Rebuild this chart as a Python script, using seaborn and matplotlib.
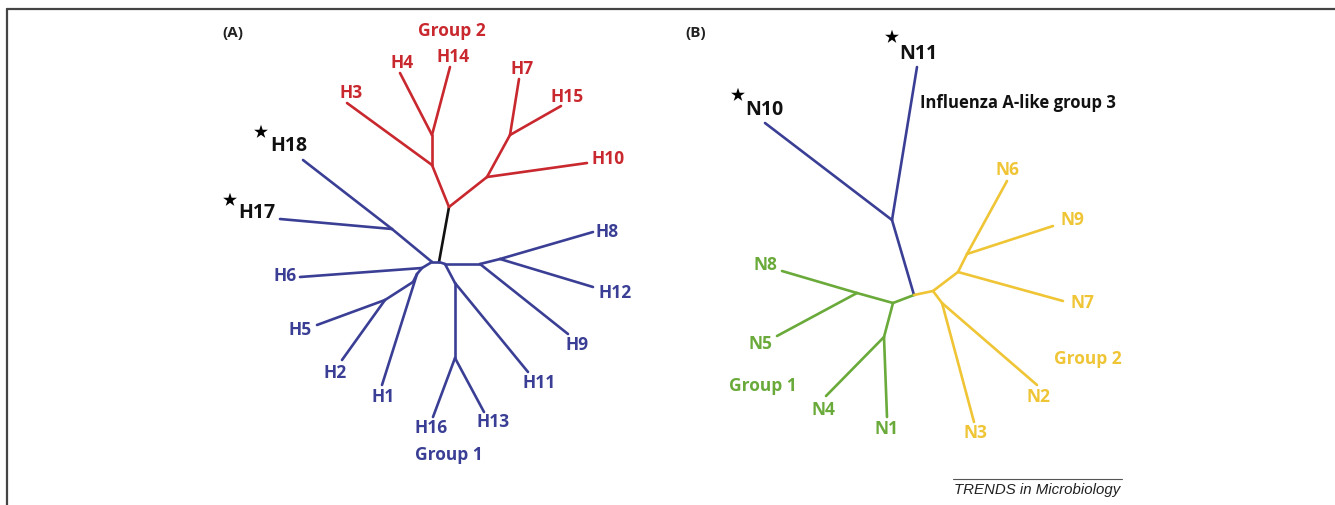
import pandas as pd
import seaborn as sns
import matplotlib.pyplot as plt
from matplotlib.lines import Line2D

# Node positions of the two unrooted trees (page pixel coordinates, y grows downwards)
ha_nodes = {
    "rootA": (439, 262), "g2": (449, 207), "n3": (432, 165), "n4_14": (432, 135),
    "H3": (347, 103), "H4": (400, 73), "H14": (450, 67),
    "n10": (487, 177), "n7_15": (510, 135), "H10": (587, 163), "H7": (519, 79), "H15": (561, 106),
    "a1": (432, 262), "j17": (392, 229), "H18": (303, 160), "H17": (280, 219),
    "a2": (422, 268), "H6": (300, 277), "a3": (417, 274), "H1": (382, 385),
    "a4": (413, 282), "a5": (385, 300), "H5": (317, 325), "H2": (342, 360),
    "b0": (445, 264), "b1": (480, 264), "b4": (500, 259), "H8": (593, 232), "H12": (593, 287),
    "H9": (568, 334), "b2": (455, 283), "H11": (528, 372), "b3": (455, 358),
    "H16": (433, 417), "H13": (484, 412),
}
ha_edges = [
    ("rootA", "g2", "black"),
    ("g2", "n3", "red"), ("n3", "H3", "red"), ("n3", "n4_14", "red"),
    ("n4_14", "H4", "red"), ("n4_14", "H14", "red"),
    ("g2", "n10", "red"), ("n10", "H10", "red"), ("n10", "n7_15", "red"),
    ("n7_15", "H7", "red"), ("n7_15", "H15", "red"),
    ("rootA", "a1", "blue"), ("a1", "j17", "blue"), ("j17", "H18", "blue"), ("j17", "H17", "blue"),
    ("a1", "a2", "blue"), ("a2", "H6", "blue"), ("a2", "a3", "blue"), ("a3", "H1", "blue"),
    ("a3", "a4", "blue"), ("a4", "a5", "blue"), ("a5", "H5", "blue"), ("a5", "H2", "blue"),
    ("rootA", "b0", "blue"), ("b0", "b1", "blue"), ("b1", "b4", "blue"),
    ("b4", "H8", "blue"), ("b4", "H12", "blue"), ("b1", "H9", "blue"),
    ("b0", "b2", "blue"), ("b2", "H11", "blue"), ("b2", "b3", "blue"),
    ("b3", "H16", "blue"), ("b3", "H13", "blue"),
]

na_nodes = {
    "rootB": (914, 295), "c1": (892, 220), "N10": (765, 123), "N11": (917, 67),
    "g1": (893, 303), "g2n": (857, 293), "N8": (782, 271), "N5": (777, 336),
    "g3": (884, 337), "N1": (887, 417), "N4": (826, 396),
    "y1": (933, 291), "y2": (958, 272), "N7": (1063, 301), "y3": (967, 254),
    "N6": (1007, 181), "N9": (1053, 226), "y4": (942, 303), "N3": (974, 422), "N2": (1037, 385),
}
na_edges = [
    ("rootB", "c1", "blue"), ("c1", "N10", "blue"), ("c1", "N11", "blue"),
    ("rootB", "g1", "green"), ("g1", "g2n", "green"), ("g2n", "N8", "green"), ("g2n", "N5", "green"),
    ("g1", "g3", "green"), ("g3", "N1", "green"), ("g3", "N4", "green"),
    ("rootB", "y1", "yellow"), ("y1", "y2", "yellow"), ("y2", "N7", "yellow"), ("y2", "y3", "yellow"),
    ("y3", "N6", "yellow"), ("y3", "N9", "yellow"), ("y1", "y4", "yellow"),
    ("y4", "N3", "yellow"), ("y4", "N2", "yellow"),
]

# Tip labels: text, x, y, colour key, size
labels = [
    ("Group 2", 452, 31, "red", 12.5), ("H3", 351, 93, "red", 12.5), ("H4", 402, 63, "red", 12.5),
    ("H14", 453, 57, "red", 12.5), ("H7", 522, 69, "red", 12.5), ("H15", 567, 97, "red", 12.5),
    ("H10", 608, 159, "red", 12.5),
    ("H18", 289, 146, "black", 14), ("H17", 257, 213, "black", 14),
    ("H6", 285, 276, "blue", 12.5), ("H5", 300, 330, "blue", 12.5), ("H2", 335, 373, "blue", 12.5),
    ("H1", 383, 397, "blue", 12.5), ("H16", 431, 428, "blue", 12.5), ("H13", 493, 422, "blue", 12.5),
    ("Group 1", 449, 455, "blue", 12.5), ("H11", 539, 383, "blue", 12.5), ("H9", 577, 345, "blue", 12.5),
    ("H12", 615, 293, "blue", 12.5), ("H8", 607, 232, "blue", 12.5),
    ("N11", 918, 54, "black", 14), ("N10", 764, 110, "black", 14),
    ("N6", 1007, 170, "yellow", 12.5), ("N9", 1072, 220, "yellow", 12.5), ("N7", 1082, 303, "yellow", 12.5),
    ("Group 2", 1088, 359, "yellow", 12.5), ("N2", 1038, 397, "yellow", 12.5), ("N3", 975, 433, "yellow", 12.5),
    ("N8", 765, 265, "green", 12.5), ("N5", 760, 344, "green", 12.5), ("Group 1", 763, 386, "green", 12.5),
    ("N4", 823, 410, "green", 12.5), ("N1", 887, 429, "green", 12.5),
]
stars = [(261, 132), (230, 200), (892, 37), (738, 95)]

palette = {"red": "#c8282e", "blue": "#3a3f95", "black": "#111111",
           "green": "#6aaa3a", "yellow": "#efc536"}

rows = []
for nodes, edges in [(ha_nodes, ha_edges), (na_nodes, na_edges)]:
    for a, b, clade in edges:
        eid = f"{a}-{b}"
        for n in (a, b):
            rows.append({"edge": eid, "x": nodes[n][0], "y": nodes[n][1], "clade": clade})
seg_df = pd.DataFrame(rows)

sns.set_style("white")
plt.rcParams['font.family'] = ['Open Sans', 'DejaVu Sans']

fig = plt.figure(figsize=(13.35, 5.05), dpi=100)
ax = fig.add_axes([0, 0, 1, 1])

sns.lineplot(data=seg_df, x="x", y="y", units="edge", hue="clade", palette=palette,
             estimator=None, sort=False, lw=1.9, legend=False, ax=ax)

for text, x, y, key, size in labels:
    ax.text(x, y, text, color=palette[key], fontsize=size, fontweight="bold",
            ha="center", va="center")

star_df = pd.DataFrame(stars, columns=["x", "y"])
sns.scatterplot(data=star_df, x="x", y="y", marker="*", s=110, color="black",
                edgecolor="none", ax=ax)

ax.text(233, 33, "(A)", fontsize=11, fontweight="bold", color="#222222", ha="center", va="center")
ax.text(696, 33, "(B)", fontsize=11, fontweight="bold", color="#222222", ha="center", va="center")
ax.text(920, 103, "Influenza A-like group 3", fontsize=12, fontweight="bold",
        color="#111111", ha="left", va="center")

# footer rule and journal tag
ax.add_line(Line2D([953, 1122], [479, 479], color="#555555", lw=0.8))
ax.text(1037, 490, "TRENDS in Microbiology", fontsize=10.8, style="italic",
        family="Liberation Sans", color="#222222", ha="center", va="center")

# frame: top and left edges only
ax.add_line(Line2D([6.5, 1335], [8.5, 8.5], color="#444444", lw=1.6))
ax.add_line(Line2D([6.5, 6.5], [8.5, 505], color="#444444", lw=1.6))

ax.set_xlim(0, 1335)
ax.set_ylim(505, 0)
ax.axis("off")

fig.savefig("out.png", dpi=100)
